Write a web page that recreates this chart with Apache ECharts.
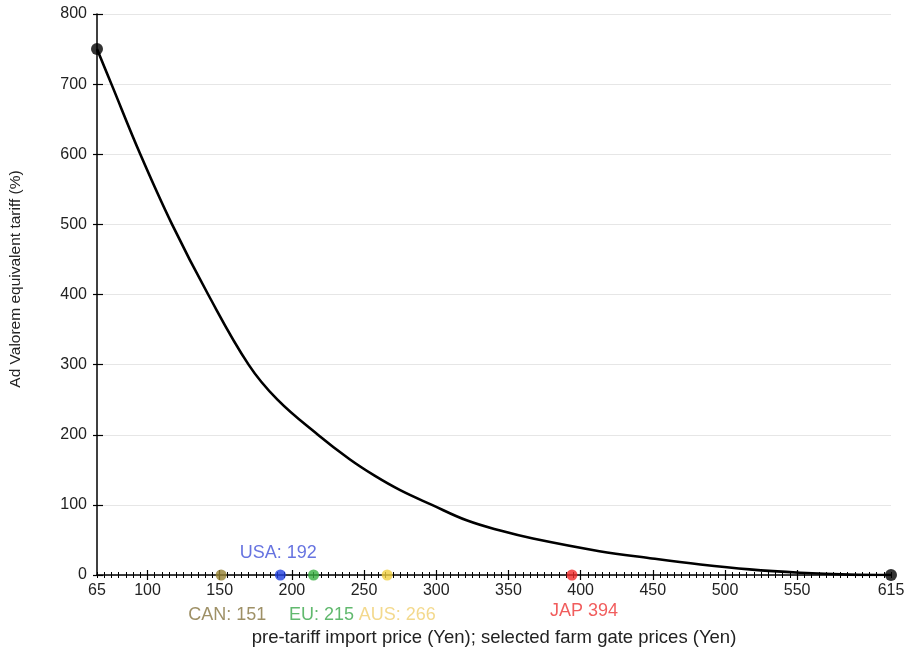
<!DOCTYPE html>
<html>
<head>
<meta charset="utf-8">
<script src="https://cdn.jsdelivr.net/npm/echarts@6/dist/echarts.min.js"></script>
<style>html,body{margin:0;padding:0;background:#fff}#c{width:909px;height:655px}</style>
</head>
<body>
<div id="c"></div>
<script>
// ---- data ----
var curvePrice  = [65, 75, 95, 117, 142, 170, 190, 218, 240, 257, 275, 297, 321, 345, 367, 413, 448, 483, 517, 552, 586, 615];
var curveTariff = [750, 700, 600, 500, 400, 300, 250, 200, 165, 142, 121, 100, 78, 63, 52, 34, 24, 15, 8, 3.3, 0.6, 0];
var endPrices   = [65, 615];
var endTariffs  = [750, 0];
var countries   = ['CAN', 'USA', 'EU', 'AUS', 'JAP'];
var countryPrices = [151, 192, 215, 266, 394];
var countryLabels = ['CAN: 151', 'USA: 192', 'EU: 215', 'AUS: 266', 'JAP 394'];
var xLabelValues = [65, 100, 150, 200, 250, 300, 350, 400, 450, 500, 550, 615];
var xMajorTicks  = [100, 150, 200, 250, 300, 350, 400, 450, 500, 550];

// ---- styling ----
var dotColors   = ['#968232', '#2040e0', '#38b040', '#f0d040', '#f02828'];
var labelColors = ['#867440', '#4050d8', '#3aa84a', '#f0d070', '#ee3434'];
var labelPos    = ['bottom', 'top', 'bottom', 'bottom', 'bottom'];
var labelOffset = [[6, 21], [-2, -2], [8, 21], [10, 21], [12, 17]];
var FONT = 'Liberation Sans, Arial, Helvetica, sans-serif';

var chart = echarts.init(document.getElementById('c'));

function xAxisBase(extra) {
  var a = {
    type: 'value', min: 65, max: 615, position: 'bottom', gridIndex: 0,
    axisLine: { show: false }, axisLabel: { show: false }, splitLine: { show: false },
    axisTick: { show: false }
  };
  for (var k in extra) a[k] = extra[k];
  return a;
}

var curveData = curvePrice.map(function (p, i) { return [p, curveTariff[i]]; });
var endData = endPrices.map(function (p, i) { return [p, endTariffs[i]]; });
var countryData = countries.map(function (c, i) {
  return {
    name: c,
    value: [countryPrices[i], 0],
    itemStyle: { color: dotColors[i] },
    label: {
      show: true, formatter: countryLabels[i], position: labelPos[i],
      offset: labelOffset[i], color: labelColors[i], fontSize: 18, fontFamily: FONT
    }
  };
});

chart.setOption({
  animation: false,
  backgroundColor: '#fff',
  grid: { left: 97, right: 18, top: 14, bottom: 80 },
  xAxis: [
    xAxisBase({
      interval: 5,
      axisLine: { show: true, lineStyle: { color: '#000', width: 1.5 } },
      axisTick: { show: true, length: 3, lineStyle: { color: '#000', width: 1 } },
      axisLabel: { show: true, customValues: xLabelValues, color: '#222', fontSize: 16, fontFamily: FONT, margin: 8 },
      name: 'pre-tariff import price (Yen); selected farm gate prices (Yen)',
      nameLocation: 'middle', nameGap: 53,
      nameTextStyle: { color: '#222', fontSize: 18.5, fontFamily: FONT }
    }),
    xAxisBase({ interval: 5, axisTick: { show: true, inside: true, length: 3, lineStyle: { color: '#000', width: 1 } } }),
    xAxisBase({ axisTick: { show: true, customValues: xMajorTicks, length: 5, lineStyle: { color: '#000', width: 1.2 } } }),
    xAxisBase({ axisTick: { show: true, inside: true, customValues: xMajorTicks, length: 5, lineStyle: { color: '#000', width: 1.2 } } })
  ],
  yAxis: [
    {
      type: 'value', min: 0, max: 800, interval: 100,
      axisLine: { show: true, lineStyle: { color: '#000', width: 1.5 } },
      axisTick: { show: true, length: 4, lineStyle: { color: '#000', width: 1.2 } },
      axisLabel: { color: '#222', fontSize: 16, fontFamily: FONT, margin: 10 },
      splitLine: { show: true, lineStyle: { color: '#e6e6e6', width: 1 } }
    },
    {
      type: 'value', min: 0, max: 800, interval: 100, position: 'left',
      axisLine: { show: false }, axisLabel: { show: false }, splitLine: { show: false },
      axisTick: { show: true, inside: true, length: 6, lineStyle: { color: '#000', width: 1.2 } }
    }
  ],
  graphic: [{
    type: 'text', x: 16, y: 279, rotation: Math.PI / 2,
    style: {
      text: 'Ad Valorem equivalent tariff (%)', fill: '#222', fontSize: 15.5, fontFamily: FONT,
      align: 'center', verticalAlign: 'middle'
    }
  }],
  series: [
    {
      type: 'line', data: curveData, smooth: 0.4, showSymbol: false,
      lineStyle: { color: '#000', width: 2.6 }, z: 3
    },
    {
      type: 'scatter', data: endData, symbolSize: 12, itemStyle: { color: '#000' }, z: 4
    },
    {
      type: 'scatter', data: countryData, symbolSize: 11, z: 4
    }
  ]
});
</script>
</body>
</html>
